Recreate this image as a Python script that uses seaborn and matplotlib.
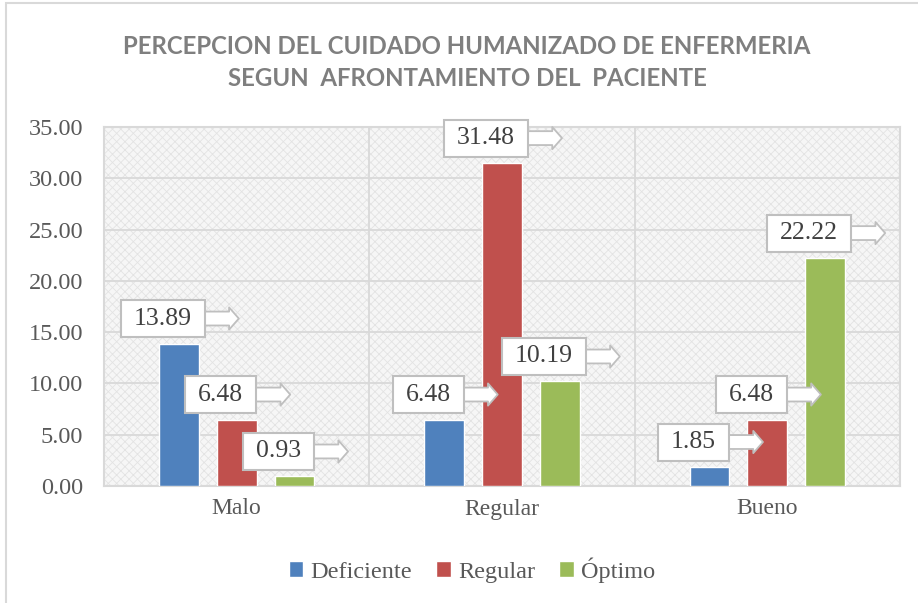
import matplotlib
matplotlib.use("Agg")
import matplotlib.pyplot as plt
import matplotlib.patches as mpatches
from matplotlib.transforms import IdentityTransform
import seaborn as sns
import pandas as pd

# data
categories = ["Malo", "Regular", "Bueno"]
series_names = ["Deficiente", "Regular", "Óptimo"]
deficiente = [13.89, 6.48, 1.85]
regular = [6.48, 31.48, 6.48]
optimo = [0.93, 10.19, 22.22]
colors = ["#4F81BD", "#C0504D", "#9BBB59"]
yticks = [0, 5, 10, 15, 20, 25, 30, 35]

title_1 = "PERCEPCION DEL CUIDADO HUMANIZADO DE ENFERMERIA"
title_2 = "SEGUN  AFRONTAMIENTO DEL  PACIENTE"

series = [deficiente, regular, optimo]
rows = []
for name, vals in zip(series_names, series):
    for cat, v in zip(categories, vals):
        rows.append({"afrontamiento": cat, "percepcion": name, "valor": v})
df = pd.DataFrame(rows)

sns.set_theme(style="white")
plt.rcParams["font.family"] = ["Liberation Serif", "DejaVu Serif"]
plt.rcParams["hatch.linewidth"] = 0.6

W, H = 918, 603
fig = plt.figure(figsize=(W / 100, H / 100), dpi=100)
ax = fig.add_axes([104 / W, 1 - 486 / H, (900 - 104) / W, (486 - 127) / H])

# patterned plot area
ax.set_facecolor("#F6F6F6")
bg = mpatches.Rectangle((0, 0), 1, 1, transform=ax.transAxes, facecolor="none",
                        edgecolor="#E3E3E3", hatch="xxxx", linewidth=0, zorder=0)
ax.add_patch(bg)

sns.barplot(data=df, x="afrontamiento", y="valor", hue="percepcion",
            order=categories, hue_order=series_names, palette=colors,
            width=0.654, gap=0.31, saturation=1, ax=ax, legend=True, zorder=3)

ax.set_xlim(-0.5, 2.5)
ax.set_ylim(0, 35)
ax.set_yticks(yticks)
ax.set_yticklabels([f"{t:.2f}" for t in yticks], fontsize=17.5, color="#595959")
ax.tick_params(axis="x", labelsize=17, colors="#595959", length=0, pad=9)
ax.tick_params(axis="y", length=0, pad=15)
ax.set_xlabel("")
ax.set_ylabel("")

grid_c = "#D9D9D9"
for t in yticks:
    ax.axhline(t, color=grid_c, lw=1.3, zorder=1)
for xb in [0.5, 1.5]:
    ax.axvline(xb, color=grid_c, lw=1.3, zorder=1)
for s in ax.spines.values():
    s.set_color(grid_c)
    s.set_linewidth(1.5)

handles, labels = ax.get_legend_handles_labels()
ax.legend_.remove()
fig.legend(handles, labels, loc="center", bbox_to_anchor=(472 / W, 1 - 570 / H),
           ncol=3, frameon=False, fontsize=17.5, handlelength=0.6, handleheight=0.6,
           handletextpad=0.3, columnspacing=1.0, labelcolor="#595959")

fig.text(467 / W, 1 - 47 / H, title_1, ha="center", va="center",
         fontsize=17.3, fontweight="bold", color="#7F7F7F", family=["Lato", "DejaVu Sans"])
fig.text(467 / W, 1 - 79 / H, title_2, ha="center", va="center",
         fontsize=17.3, fontweight="bold", color="#7F7F7F", family=["Lato", "DejaVu Sans"])

# outer chart frame
fig.patches.append(mpatches.Rectangle((6 / W, -0.02), 1.0, 1 - 3 / H + 0.02,
                                      transform=fig.transFigure, fill=False,
                                      edgecolor="#D9D9D9", linewidth=1.5))

# callout data labels
fig.canvas.draw()
renderer = fig.canvas.get_renderer()
for container, vals in zip(ax.containers, series):
    for bar, v in zip(container, vals):
        cx = bar.get_x() + bar.get_width() / 2
        px, py = ax.transData.transform((cx, v))
        tx, ty = px - 16, py + 25
        t = fig.text(tx / W, ty / H, f"{v:.2f}", ha="center", va="center",
                     fontsize=18.5, color="#404040", zorder=12)
        bb = t.get_window_extent(renderer)
        bw, bh = bb.width + 26, 37
        x0 = tx + bw / 2
        arrow = mpatches.FancyArrowPatch(
            (x0 - 2, ty), (x0 + 34, ty),
            arrowstyle="simple,head_length=7,head_width=16,tail_width=10",
            facecolor="white", edgecolor="#BFBFBF", linewidth=1.3,
            shrinkA=0, shrinkB=0, transform=IdentityTransform(), zorder=10)
        fig.patches.append(arrow)
        box = mpatches.Rectangle((tx - bw / 2, ty - bh / 2), bw, bh,
                                 facecolor="white", edgecolor="#BFBFBF",
                                 linewidth=1.5, transform=IdentityTransform(), zorder=11)
        fig.patches.append(box)

fig.savefig("out.png", dpi=100, facecolor="white")
